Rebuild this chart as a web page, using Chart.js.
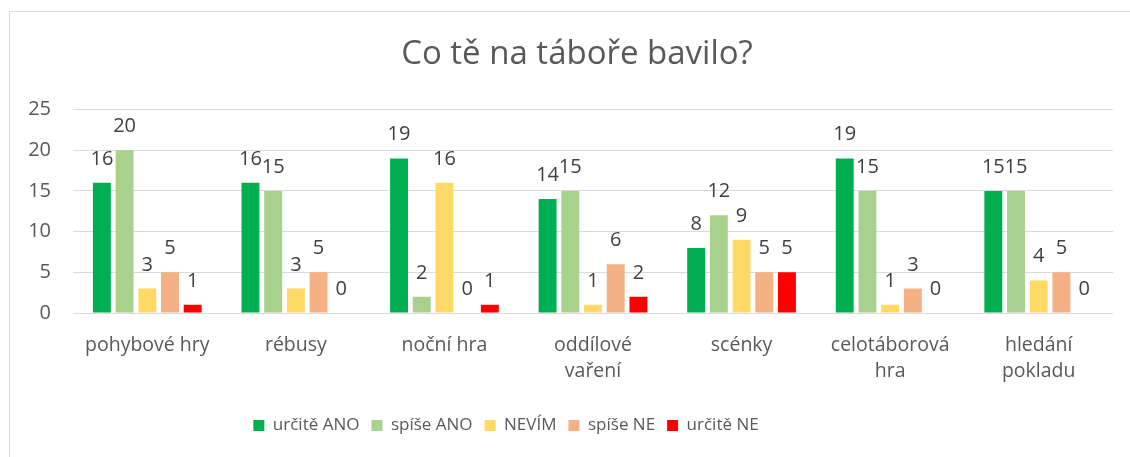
<!DOCTYPE html>
<html>
<head>
<meta charset="utf-8">
<script src="https://cdn.jsdelivr.net/npm/chart.js@4"></script>
<style>
  html, body { margin: 0; padding: 0; background: #fff; overflow: hidden; }
  #wrap { position: relative; width: 1130px; height: 457px; }
  #frame { position: absolute; left: 9px; top: 11px; width: 1140px; height: 470px;
           border: 1px solid #d9d9d9; box-sizing: border-box; pointer-events: none; }
  canvas { position: absolute; left: 0; top: 0; }
</style>
</head>
<body>
<div id="wrap">
  <div id="frame"></div>
  <canvas id="chart" width="1130" height="457"></canvas>
</div>
<script>
const categories = [
  "pohybové hry", "rébusy", "noční hra", ["oddílové", "vaření"],
  "scénky", ["celotáborová", "hra"], ["hledání", "pokladu"]
];
const seriesNames = ["určitě ANO", "spíše ANO", "NEVÍM", "spíše NE", "určitě NE"];
const seriesColors = ["#00b050", "#a9d18e", "#ffd966", "#f4b183", "#ff0000"];

const urciteAno = [16, 16, 19, 14, 8, 19, 15];
const spiseAno  = [20, 15, 2, 15, 12, 15, 15];
const nevim     = [3, 3, 16, 1, 9, 1, 4];
const spiseNe   = [5, 5, 0, 6, 5, 3, 5];
const urciteNe  = [1, 0, 1, 2, 5, 0, 0];
const yTicks    = [0, 5, 10, 15, 20, 25];

const seriesValues = [urciteAno, spiseAno, nevim, spiseNe, urciteNe];
const TEXT = "#595959";

Chart.defaults.font.family = "'Open Sans', sans-serif";
Chart.defaults.color = TEXT;

// value labels above each bar
const valueLabels = {
  id: "valueLabels",
  afterDatasetsDraw(chart) {
    const ctx = chart.ctx;
    ctx.save();
    ctx.font = "20px 'Open Sans', sans-serif";
    ctx.fillStyle = "#404040";
    ctx.textAlign = "center";
    ctx.textBaseline = "alphabetic";
    chart.data.datasets.forEach((ds, i) => {
      chart.getDatasetMeta(i).data.forEach((bar, j) => {
        ctx.fillText(String(ds.data[j]), bar.x, bar.y - 18);
      });
    });
    ctx.restore();
  }
};

// excel puts the legend a bit left of centre and the title a bit right
const nudgeBoxes = {
  id: "nudgeBoxes",
  afterLayout(chart) {
    chart.legend.left -= 62;
    chart.legend.right -= 62;
    chart.titleBlock.left += 9;
    chart.titleBlock.right += 9;
  }
};

new Chart(document.getElementById("chart"), {
  type: "bar",
  data: {
    labels: categories,
    datasets: seriesNames.map((name, i) => ({
      label: name,
      data: seriesValues[i],
      backgroundColor: seriesColors[i],
      borderWidth: 0,
      categoryPercentage: 0.764,
      barPercentage: 0.79,
    })),
  },
  options: {
    responsive: false,
    animation: false,
    layout: { padding: { left: 23, right: 17, top: 0, bottom: 13 } },
    plugins: {
      title: {
        display: true,
        text: "Co tě na táboře bavilo?",
        color: TEXT,
        font: { size: 33, weight: "normal" },
        padding: { top: 35, bottom: 35 },
      },
      legend: {
        position: "bottom",
        labels: {
          boxWidth: 11,
          boxHeight: 11,
          padding: 12,
          color: TEXT,
          font: { size: 17 },
        },
      },
      tooltip: { enabled: false },
    },
    scales: {
      x: {
        grid: { display: false, drawTicks: false },
        border: { display: false },
        ticks: { color: TEXT, font: { size: 19.5, lineHeight: 1.3 }, padding: 20, maxRotation: 0, autoSkip: false },
        afterFit: (s) => { s.height = 92; },
      },
      y: {
        min: 0,
        max: 25,
        afterBuildTicks: (s) => { s.ticks = yTicks.map((v) => ({ value: v })); },
        grid: { color: "#d9d9d9", lineWidth: 1, drawTicks: false },
        border: { display: false },
        ticks: { color: TEXT, font: { size: 20 }, padding: 22 },
        afterFit: (s) => { s.width = 50; },
      },
    },
  },
  plugins: [valueLabels, nudgeBoxes],
});
</script>
</body>
</html>
